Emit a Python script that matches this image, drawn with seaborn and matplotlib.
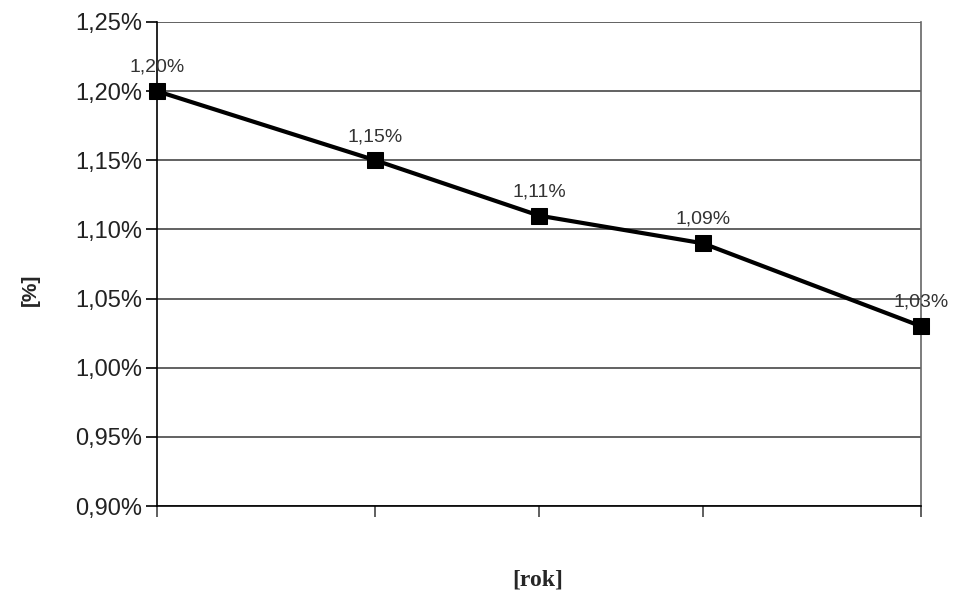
import pandas as pd
import seaborn as sns
import matplotlib.pyplot as plt
from matplotlib.ticker import FuncFormatter

# x positions (years, unlabeled in the original) and values in %
positions = [0, 4, 7, 10, 14]
values = [1.20, 1.15, 1.11, 1.09, 1.03]
labels = ['1,20%', '1,15%', '1,11%', '1,09%', '1,03%']

df = pd.DataFrame({'rok': positions, 'val': values})

sns.set_style('ticks')
plt.rcParams['font.family'] = ['Liberation Sans', 'DejaVu Sans']

fig = plt.figure(figsize=(9.54, 6.11), dpi=100)
ax = fig.add_axes([0.1646, 0.1718, 0.8008, 0.7922])

sns.lineplot(data=df, x='rok', y='val', marker='s', markersize=12,
             color='black', linewidth=3, markeredgecolor='black', ax=ax,
             clip_on=False, zorder=5)

for x, y, t in zip(positions, values, labels):
    ax.annotate(t, (x, y), xytext=(0, 11), textcoords='offset points',
                ha='center', va='bottom', fontsize=14, color='#333333')

ax.set_xlim(positions[0], positions[-1])
ax.set_ylim(0.90, 1.25)
ax.set_yticks([0.90, 0.95, 1.00, 1.05, 1.10, 1.15, 1.20, 1.25])
ax.yaxis.set_major_formatter(FuncFormatter(lambda v, p: f'{v:.2f}%'.replace('.', ',')))
ax.set_xticks(positions)
ax.set_xticklabels([])
ax.tick_params(axis='y', left=True, labelsize=17, length=8, width=1.2,
               colors='black', labelcolor='#222222', pad=3)
ax.tick_params(axis='x', bottom=True, length=8, width=1.2, colors='#444444')
ax.grid(axis='y', color='#555555', linewidth=1.3)

for s in ['left', 'right', 'bottom']:
    ax.spines[s].set_visible(True)
    ax.spines[s].set_color('black')
    ax.spines[s].set_linewidth(1.2)
ax.spines['top'].set_visible(False)
ax.spines['right'].set_color('#666666')

ax.set_xlabel('')
ax.set_ylabel('')
fig.text(0.032, 0.525, '[%]', fontsize=15, fontweight='bold', rotation=90,
         ha='center', va='center')
fig.text(0.564, 0.05, '[rok]', fontsize=17, fontweight='bold',
         family=['Liberation Serif', 'DejaVu Serif'], ha='center', va='center')

fig.savefig('out.png', dpi=100)
